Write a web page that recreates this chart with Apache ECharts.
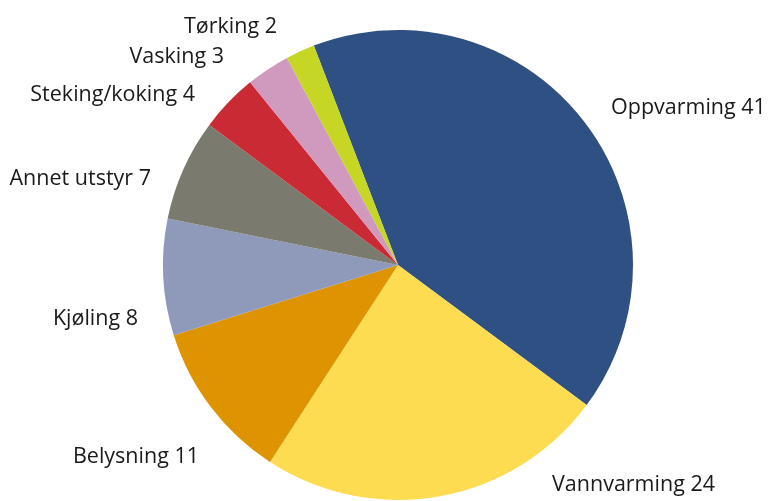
<!DOCTYPE html>
<html>
<head>
<meta charset="utf-8">
<script src="https://cdn.jsdelivr.net/npm/echarts@6/dist/echarts.min.js"></script>
<style>
  html, body { margin: 0; padding: 0; background: #fff; }
  #chart { width: 769px; height: 501px; }
</style>
</head>
<body>
<div id="chart"></div>
<script>
  // data (share of energy use, %)
  const categories = ['Oppvarming', 'Vannvarming', 'Belysning', 'Kjøling', 'Annet utstyr', 'Steking/koking', 'Vasking', 'Tørking'];
  const values = [41, 24, 11, 8, 7, 4, 3, 2];
  const colors = ['#2f5082', '#fedc52', '#de9300', '#8f9aba', '#7a7a6f', '#c92a33', '#cf9abd', '#c6d624'];

  // where each label sits in the picture: [x, y, align]
  const labelPlace = [
    [611, 108, 'left'],
    [552, 485, 'left'],
    [199, 457, 'right'],
    [138, 319, 'right'],
    [151, 179, 'right'],
    [195, 95, 'right'],
    [224, 57, 'right'],
    [277, 27, 'right']
  ];

  const chart = echarts.init(document.getElementById('chart'));

  const option = {
    animation: false,
    series: [{
      type: 'pie',
      center: [398, 265],
      radius: 235,
      startAngle: 111,
      clockwise: true,
      data: categories.map((c, i) => ({
        name: c,
        value: values[i],
        itemStyle: { color: colors[i] }
      })),
      itemStyle: { borderWidth: 0 },
      label: {
        show: true,
        formatter: '{b} {c}',
        color: '#1a1a1a',
        fontFamily: 'Open Sans',
        fontSize: 21.5,
        overflow: 'none'
      },
      labelLine: { show: false },
      labelLayout: function (params) {
        const p = labelPlace[params.dataIndex];
        return { x: p[0], y: p[1], align: p[2], verticalAlign: 'middle' };
      }
    }]
  };

  chart.setOption(option);
</script>
</body>
</html>
